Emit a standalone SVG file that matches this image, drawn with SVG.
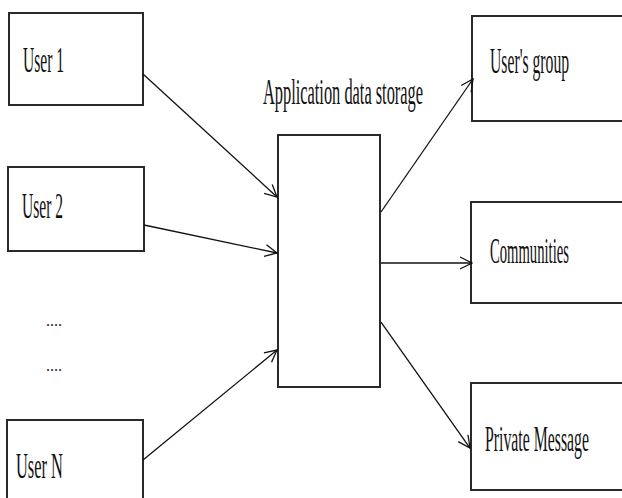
<svg xmlns="http://www.w3.org/2000/svg" width="622" height="498" viewBox="0 0 622 498">
<defs>
<style>
.box{fill:#fff;stroke:#2a2a2a;stroke-width:2}
.lbl{font-family:"Liberation Serif","Times New Roman",serif;font-size:36px;fill:#111}
.dots{font-family:"Liberation Serif","Times New Roman",serif;font-size:16px;fill:#222}
.con{stroke:#111;stroke-width:1.3;fill:none;marker-end:url(#arr)}
</style>
<marker id="arr" viewBox="0 0 14 14" refX="13" refY="7" markerWidth="14" markerHeight="14" markerUnits="userSpaceOnUse" orient="auto">
<path d="M1,1 L13,7 L1,13" fill="none" stroke="#111" stroke-width="1.3"/>
</marker>
</defs>
<rect width="622" height="498" fill="#fff"/>
<g id="user1"><rect class="box" x="9" y="13" width="134" height="92"/><text class="lbl" transform="translate(23,72) scale(0.432,1)">User 1</text></g>
<g id="user2"><rect class="box" x="8" y="167" width="136" height="84"/><text class="lbl" transform="translate(22,218) scale(0.432,1)">User 2</text></g>
<g id="dots"><text class="dots" x="46" y="326">....</text><text class="dots" x="46" y="371">....</text></g>
<g id="userN"><rect class="box" x="7" y="420" width="136" height="90"/><text class="lbl" transform="translate(16,478) scale(0.456,1)">User N</text></g>
<g id="storage"><rect class="box" x="278" y="135" width="102" height="252"/><text class="lbl" transform="translate(263,104) scale(0.455,1)">Application data storage</text></g>
<g id="group"><rect class="box" x="472" y="16" width="160" height="105"/><text class="lbl" transform="translate(490,73) scale(0.436,1)">User's group</text></g>
<g id="communities"><rect class="box" x="471" y="202" width="160" height="101"/><text class="lbl" transform="translate(490,263) scale(0.407,1)">Communities</text></g>
<g id="private"><rect class="box" x="471" y="383" width="160" height="107"/><text class="lbl" transform="translate(485,451) scale(0.439,1)">Private Message</text></g>
<g id="connectors">
<line class="con" x1="143" y1="74" x2="277" y2="197"/>
<line class="con" x1="144" y1="225" x2="277" y2="253"/>
<line class="con" x1="143" y1="460" x2="277" y2="350"/>
<line class="con" x1="381" y1="212" x2="473" y2="79"/>
<line class="con" x1="381" y1="263" x2="472" y2="263"/>
<line class="con" x1="381" y1="322" x2="470" y2="448"/>
</g>
</svg>
